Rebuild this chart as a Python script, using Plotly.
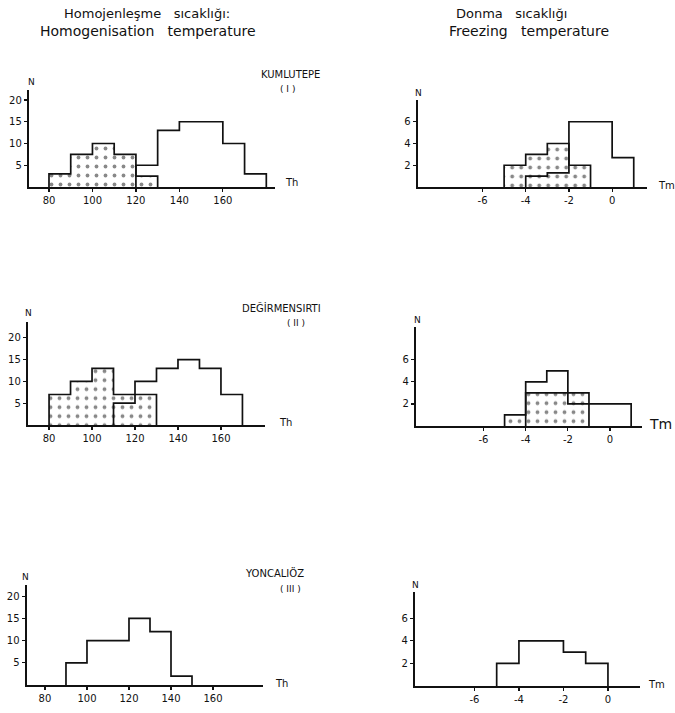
import plotly.graph_objects as go

# ---------------- data ----------------
# Kumlutepe (I) - homogenisation temperature Th
kum_th_edges_dot = [80, 90, 100, 110, 120, 130]
kum_th_dot = [3, 7.5, 10, 7.5, 2.5]
kum_th_edges_open = [120, 130, 140, 150, 160, 170, 180]
kum_th_open = [5, 13, 15, 15, 10, 3]
# Kumlutepe (I) - freezing temperature Tm
kum_tm_edges_dot = [-5, -4, -3, -2, -1]
kum_tm_dot = [2, 3, 4, 2]
kum_tm_edges_open = [-4, -3, -2, -1, 0, 1]
kum_tm_open = [1, 1.3, 6, 6, 2.7]

# Degirmensirti (II)
deg_th_edges_dot = [80, 90, 100, 110, 120, 130]
deg_th_dot = [7, 10, 13, 7, 7]
deg_th_edges_open = [110, 120, 130, 140, 150, 160, 170]
deg_th_open = [5, 10, 13, 15, 13, 7]
deg_tm_edges_dot = [-5, -4, -3, -2, -1]
deg_tm_dot = [1, 3, 3, 3]
deg_tm_edges_open = [-4, -3, -2, -1, 0, 1]
deg_tm_open = [4, 5, 2, 2, 2]

# Yoncaliöz (III)
yon_th_edges_open = [90, 100, 110, 120, 130, 140, 150]
yon_th_open = [5, 10, 10, 15, 12, 2]
yon_tm_edges_open = [-5, -4, -3, -2, -1, 0]
yon_tm_open = [2, 4, 4, 3, 2]

th_ticks = [80, 100, 120, 140, 160]
th_tick_labels = ["80", "100", "120", "140", "160"]
tm_ticks = [-6, -4, -2, 0]
tm_tick_labels = ["-6", "-4", "-2", "0"]
th_n_ticks = [5, 10, 15, 20]
tm_n_ticks = [2, 4, 6]

W, H = 675, 713
FONT = "DejaVu Sans, Liberation Sans, sans-serif"


def px(p):
    return p / W


def py(p):
    return 1 - p / H


fig = go.Figure()

# panel layout (pixel domains in the 675x713 page)
panels = [
    dict(xd=(29, 275), yd=(187, 90), xr=(70.8, 184), yr=(0, 22.3), kind="th"),
    dict(xd=(417.7, 646.7), yd=(187, 100), xr=(-9, 1.6), yr=(0, 8), kind="tm"),
    dict(xd=(28, 265), yd=(425, 321.7), xr=(70.2, 180.5), yr=(0, 23.7), kind="th"),
    dict(xd=(416, 641.7), yd=(426, 326.7), xr=(-9.2, 1.5), yr=(0, 9), kind="tm"),
    dict(xd=(26.7, 263), yd=(685, 585), xr=(71.3, 183.8), yr=(0, 22.5), kind="th"),
    dict(xd=(415, 640), yd=(686, 591.7), xr=(-8.67, 1.44), yr=(0, 8.35), kind="tm"),
]

series = [
    [(kum_th_edges_dot, kum_th_dot), (kum_th_edges_open, kum_th_open, None)],
    [(kum_tm_edges_dot, kum_tm_dot), (kum_tm_edges_open, kum_tm_open, None)],
    [(deg_th_edges_dot, deg_th_dot), (deg_th_edges_open, deg_th_open, None)],
    [(deg_tm_edges_dot, deg_tm_dot), (deg_tm_edges_open, deg_tm_open, None)],
    [(yon_th_edges_open, yon_th_open, None)],
    [(yon_tm_edges_open, yon_tm_open, None)],
]


def step_xy(edges, vals):
    xs = [edges[0]] + list(edges[:-1]) + [edges[-1]]
    ys = [0] + list(vals) + [0]
    return xs, ys


for i, (p, ser) in enumerate(zip(panels, series)):
    n = "" if i == 0 else str(i + 1)
    xa, ya = "x" + n, "y" + n
    for s in ser:
        edges, vals = s[0], s[1]
        dotted = len(s) == 2
        if dotted:
            centers = [(a + b) / 2 for a, b in zip(edges[:-1], edges[1:])]
            widths = [b - a for a, b in zip(edges[:-1], edges[1:])]
            fig.add_trace(go.Bar(
                x=centers, y=vals, width=widths, xaxis=xa, yaxis=ya,
                marker=dict(color="white", line=dict(width=0),
                            pattern=dict(shape=".", fgcolor="#111", bgcolor="white",
                                         size=9, solidity=0.14)),
                showlegend=False, hoverinfo="skip"))
    for s in ser:
        edges, vals = s[0], s[1]
        xs, ys = step_xy(edges, vals)
        fig.add_trace(go.Scatter(
            x=xs, y=ys, xaxis=xa, yaxis=ya, mode="lines",
            line=dict(color="#111", width=1.7, shape="hv"),
            showlegend=False, hoverinfo="skip"))

    if p["kind"] == "th":
        tv, tt, nv = th_ticks, th_tick_labels, th_n_ticks
    else:
        tv, tt, nv = tm_ticks, tm_tick_labels, tm_n_ticks
    axis_common = dict(showline=True, linecolor="#111", linewidth=2.2, showgrid=False,
                       zeroline=False, ticks="outside", tickcolor="#111", ticklen=3,
                       tickwidth=1.2, tickfont=dict(family=FONT, size=10, color="#111"),
                       fixedrange=True)
    fig.update_layout(**{
        "xaxis" + n: dict(domain=[px(p["xd"][0]), px(p["xd"][1])], range=list(p["xr"]),
                          anchor=ya, tickvals=tv, ticktext=tt, **axis_common),
        "yaxis" + n: dict(domain=[py(p["yd"][0]), py(p["yd"][1])], range=list(p["yr"]),
                          anchor=xa, tickvals=nv, ticktext=[str(v) for v in nv],
                          **axis_common),
    })

ann = []


def text(x, y, s, size=10, anchor="center"):
    ann.append(dict(x=px(x), y=py(y), xref="paper", yref="paper", text=s,
                    showarrow=False, xanchor=anchor, yanchor="middle",
                    font=dict(family=FONT, size=size, color="#111")))


SP = "\u00a0\u00a0\u00a0"
# headers
text(147, 14, "Homojenleşme" + SP + "sıcaklığı:", 13)
text(148, 31, "Homogenisation" + SP + "temperature", 14)
text(511, 14, "Donma" + SP + "sıcaklığı", 13)
text(529, 31, "Freezing" + SP + "temperature", 14)
# site names
text(290, 74, "KUMLUTEPE", 10)
text(287, 89, "( I )", 9)
text(281, 308, "DEĞİRMENSIRTI", 10)
text(296, 323, "( II )", 9)
text(274, 573, "YONCALIÖZ", 10)
text(290, 589, "( III )", 9)
# axis labels
for (nx, ny), (tx, ty, lab, sz) in [
    ((31, 82), (291, 183, "Th", 10)),
    ((418, 93), (666, 185, "Tm", 10)),
    ((29, 313), (285, 423, "Th", 10)),
    ((417, 320), (660, 424, "Tm", 14)),
    ((25, 577), (281, 683, "Th", 10)),
    ((415, 585), (656, 684, "Tm", 10)),
]:
    text(nx, ny, "N", 9)
    text(tx, ty, lab, sz)

fig.update_layout(
    width=W, height=H, margin=dict(l=0, r=0, t=0, b=0),
    paper_bgcolor="white", plot_bgcolor="white",
    barmode="overlay", bargap=0, annotations=ann,
    font=dict(family=FONT, color="#111"),
)

fig.write_html(
    "out.html",
    config={"displayModeBar": False, "staticPlot": True},
    post_script="document.body.style.margin='0';document.body.style.overflow='hidden';",
)
